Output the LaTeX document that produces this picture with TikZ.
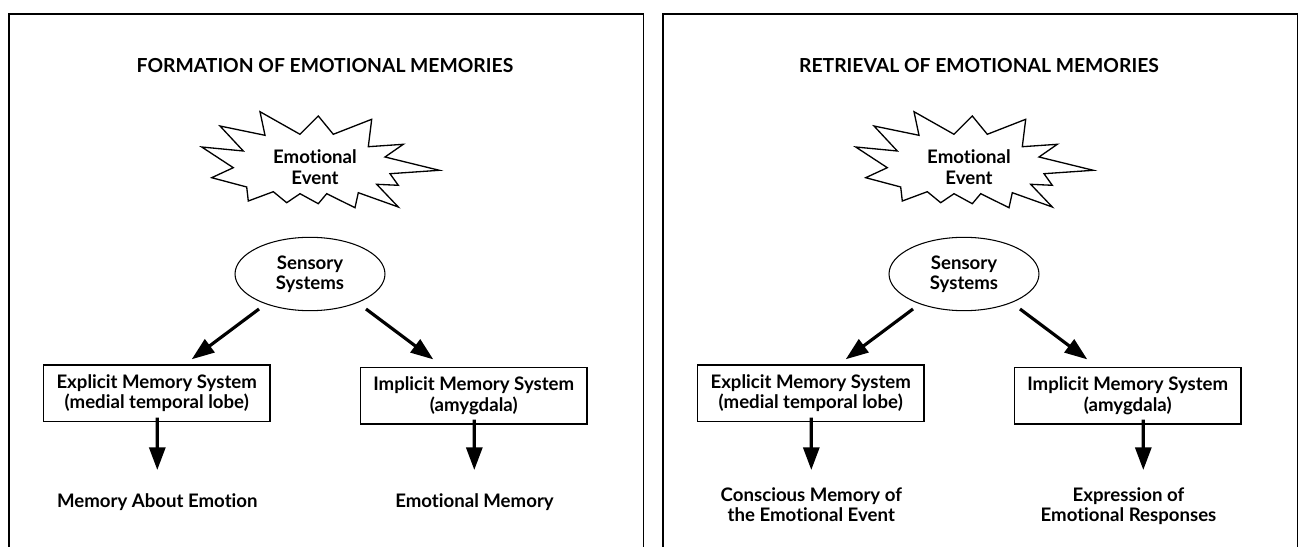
\documentclass[tikz,border=0pt]{standalone}
\usepackage{fontspec}
\setmainfont{Lato}[Ligatures=NoCommon]
\usetikzlibrary{arrows.meta,shapes.geometric}
\tikzset{
  panelframe/.style={line width=0.85pt, draw=black},
  txt/.style={font=\bfseries\fontsize{10.6}{11.6}\selectfont, align=center, inner sep=0pt},
  headline/.style={txt, font=\bfseries\fontsize{11}{12}\selectfont},
  memsys/.style={txt, draw, line width=0.75pt, minimum width=4.534cm, minimum height=1.134cm},
  senses/.style={txt, ellipse, draw, line width=0.6pt, minimum width=3cm, minimum height=1.468cm},
  burst/.style={line width=0.75pt, draw=black, line join=miter},
  bigarrow/.style={-{Triangle[length=12.9pt,width=9.1pt]}, line width=1.8pt}
}
\newcommand{\DrawPanel}[7]{% prefix, x offset, title, explicit result, implicit result, last baseline of results, implicit arrow dx
  \begin{scope}[shift={(#2,0)}]
    \draw[panelframe] (9,547) -- (9,14) -- (643.5,14) -- (643.5,547);
    \node[headline, anchor=base] (#1title) at (325,72.7) {#3};
    \node[txt] (#1burst) at (315,167) {Emotional\\Event};
    \draw[burst, shift={(#1burst.center)}] (-113.3,-20) -- (-71.7,-16) -- (-95,-41) -- (-50,-31.7)
      -- (-55,-55.3) -- (-15,-32.7) -- (3.3,-51) -- (18.3,-32.7) -- (56.7,-47.7) -- (53.3,-20.3)
      -- (88.3,-22.7) -- (70,-10) -- (124.3,3.3) -- (75,6.7) -- (83.3,18.3) -- (61.7,17.3)
      -- (83.3,40) -- (43.3,25.7) -- (40,40.7) -- (11.7,26.7) -- (3.3,36.7) -- (-15,26.7)
      -- (-28.3,35.7) -- (-41.7,24.7) -- (-66.7,34) -- (-68.3,20) -- (-103.3,10.7) -- (-81.7,0.7) -- cycle;
    \node[senses] (#1sens) at (310,274) {Sensory\\Systems};
    \node[memsys] (#1expl) at (156.7,393.3) {Explicit Memory System\\(medial temporal lobe)};
    \node[memsys] (#1impl) at (473.7,395.7) {Implicit Memory System\\(amygdala)};
    \node[txt, anchor=base] (#1exout) at (157.3,#6) {#4};
    \node[txt, anchor=base] (#1imout) at (474.5,#6) {#5};
    \coordinate (#1exend) at (157.3,470);
    \coordinate (#1imend) at (474.3+#7,470);
    % arrows out of the sensory systems
    \draw[bigarrow] ([shift={(-51,35)}]#1sens.center) -- ([shift={(35,-5)}]#1expl.north);
    \draw[bigarrow] ([shift={(56,35)}]#1sens.center) -- ([shift={(-40.4,-7.3)}]#1impl.north);
    \draw[bigarrow] ([shift={(0.6,-4.7)}]#1expl.south) -- (#1exend);
    \draw[bigarrow] ([shift={(0.6+#7,-5)}]#1impl.south) -- (#1imend);
  \end{scope}
}
\begin{document}
\begin{tikzpicture}[x=0.02cm, y=-0.02cm]
  \useasboundingbox (0,0) rectangle (1299,547);
  \DrawPanel{L}{0}{FORMATION OF EMOTIONAL MEMORIES}{Memory About Emotion}{Emotional Memory}{507.7}{0}
  \DrawPanel{R}{654}{RETRIEVAL OF EMOTIONAL MEMORIES}{Conscious Memory of\\the Emotional Event}{Expression of\\Emotional Responses}{521.7}{15}
\end{tikzpicture}
\end{document}
